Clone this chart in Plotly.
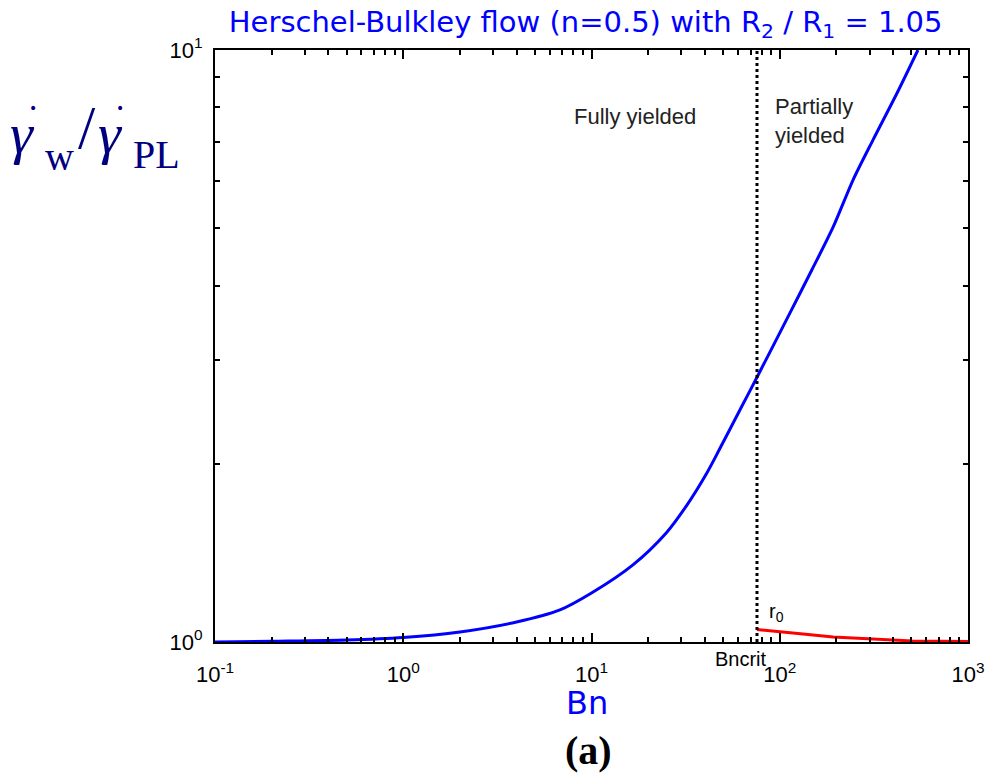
import plotly.graph_objects as go

# Data
bn_blue = [0.1, 0.2, 0.5, 1, 2, 4, 6.8, 10, 16.6, 25, 32, 41, 48, 62, 75.7, 113, 148, 192, 245, 313, 420, 542]
y_blue = [1.0, 1.003, 1.008, 1.018, 1.04, 1.081, 1.133, 1.21, 1.35, 1.53, 1.70, 1.93, 2.12, 2.48, 2.80, 3.59, 4.25, 5.02, 6.03, 7.05, 8.46, 10.0]

bn_red = [75.7, 100, 133, 192, 296, 506, 1000]
y_red = [1.05, 1.04, 1.032, 1.02, 1.012, 1.004, 1.002]

bn_crit = 75.7
x_tickvals = [0.1, 1, 10, 100, 1000]
x_ticktext = ["10<sup>-1</sup>", "10<sup>0</sup>", "10<sup>1</sup>", "10<sup>2</sup>", "10<sup>3</sup>"]
x_minor = [round(m * d, 6) for d in [0.1, 1, 10, 100] for m in range(2, 10)]
y_tickvals = [1, 10]
y_ticktext = ["10<sup>0</sup>", "10<sup>1</sup>"]
y_minor = list(range(2, 10))

fig = go.Figure()
fig.add_trace(go.Scatter(x=bn_blue, y=y_blue, mode="lines",
                         line=dict(color="#0000ff", width=3, shape="spline", smoothing=0.8),
                         showlegend=False))
fig.add_trace(go.Scatter(x=bn_red, y=y_red, mode="lines",
                         line=dict(color="#ff0000", width=3), showlegend=False))
fig.add_trace(go.Scatter(x=[bn_crit, bn_crit], y=[1, 10], mode="lines",
                         line=dict(color="black", width=3, dash="dot"), showlegend=False))

axis_common = dict(
    showgrid=False, zeroline=False, showline=True, linecolor="black", linewidth=2,
    mirror="allticks", ticks="inside", ticklen=9, tickwidth=1.5, tickcolor="black",
    tickfont=dict(family="Liberation Sans, Arial", size=22, color="black"),
    automargin=False,
)
minor_common = dict(tickmode="array", ticks="inside", ticklen=5, tickwidth=1.5,
                    tickcolor="black", showgrid=False)

fig.update_xaxes(type="log", range=[-1, 3], tickvals=x_tickvals, ticktext=x_ticktext,
                 ticklabelstandoff=12, minor=dict(tickvals=x_minor, **minor_common),
                 **axis_common)
fig.update_yaxes(type="log", range=[0, 1], tickvals=y_tickvals, ticktext=y_ticktext,
                 ticklabelstandoff=6, minor=dict(tickvals=y_minor, **minor_common),
                 **axis_common)

PLOT_L, PLOT_B, PLOT_H = 215, 642, 592


def px_ann(text, x_px, y_px, size, family, color, xanchor="left", yanchor="middle"):
    """Annotation placed at page pixel coordinates (left/center, middle)."""
    return dict(text=text, xref="paper", yref="paper", x=0, xshift=x_px - PLOT_L,
                y=(PLOT_B - y_px) / PLOT_H, xanchor=xanchor, yanchor=yanchor, showarrow=False,
                font=dict(family=family, size=size, color=color))


serif = "Liberation Serif, Times New Roman"
navy = "#00007f"
label_font = dict(family="Liberation Sans, Arial", size=22, color="#222222")

annotations = [
    px_ann("Bn", 587, 703, 32, "DejaVu Sans", "#0000ff", xanchor="center"),
    px_ann("<b>(a)</b>", 588, 750, 40, serif, "black", xanchor="center"),
    # y-axis label: γ̇_w / γ̇_PL built from pieces
    px_ann("<i>γ</i>", 8, 133, 58, serif, navy),
    px_ann("w", 43, 157, 40, serif, navy),
    px_ann("/", 76, 127, 62, serif, navy),
    px_ann("<i>γ</i>", 96, 133, 58, serif, navy),
    px_ann("PL", 131, 154, 40, serif, navy),
    px_ann("•", 33, 108, 14, "DejaVu Sans", navy, xanchor="center"),
    px_ann("•", 120, 108, 14, "DejaVu Sans", navy, xanchor="center"),
    dict(text="Fully yielded", xref="x", yref="paper", x=1.231, y=(PLOT_B - 116) / PLOT_H,
         yanchor="middle", xanchor="center", showarrow=False, font=label_font),
    dict(text="Partially<br>yielded", xref="paper", yref="paper", x=0.741, xanchor="left",
         y=(PLOT_B - 121) / PLOT_H, yanchor="middle", align="left", showarrow=False, font=label_font),
    dict(text="r<sub>0</sub>", xref="x", yref="paper", x=1.932, xanchor="left", y=0.05,
         yanchor="middle", showarrow=False,
         font=dict(family="Liberation Sans, Arial", size=20, color="black")),
    px_ann("Bncrit", 741, 659, 20, "Liberation Sans, Arial", "black", xanchor="center"),
]

fig.update_layout(
    width=986, height=776,
    margin=dict(l=215, r=18, t=50, b=134),
    paper_bgcolor="white", plot_bgcolor="white",
    title=dict(text="Herschel-Bulkley flow (n=0.5) with R<sub>2</sub> / R<sub>1</sub> = 1.05",
               x=0.594, xanchor="center", y=0.972, yanchor="middle",
               font=dict(family="DejaVu Sans", size=29, color="#0000ff")),
    annotations=annotations,
)

fig.write_html("out.html")
